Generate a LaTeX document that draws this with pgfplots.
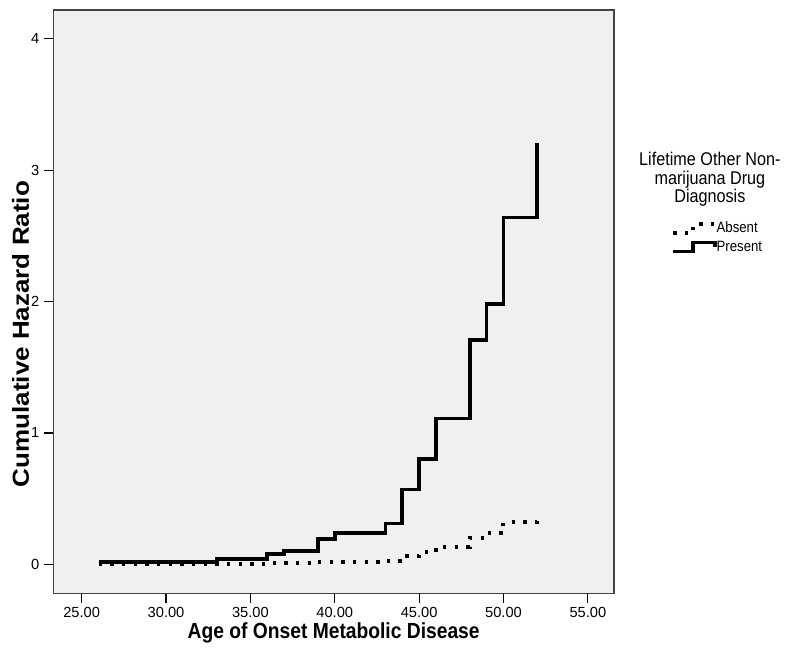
\documentclass[border=0pt]{standalone}
\usepackage{pgfplots}
\pgfplotsset{compat=1.18}
\usepackage{fontspec}
\setmainfont{Liberation Sans}
\newfontfamily\xlabfont[FakeStretch=0.88]{Liberation Sans}
\newfontfamily\ylabfont[FakeStretch=1.12]{Liberation Sans}
\newfontfamily\legfont[FakeStretch=0.88]{Liberation Sans}
\definecolor{plotbg}{HTML}{F0F0F0}
\definecolor{framegray}{HTML}{444444}

\begin{document}
\begin{tikzpicture}
\path[use as bounding box] (0,0) rectangle (596.25pt,490.5pt);
\begin{axis}[
    at={(40pt,45.5pt)}, anchor=south west,
    scale only axis,
    width=420.5pt, height=437.5pt,
    xmin=23.32, xmax=56.55,
    ymin=-0.221, ymax=4.219,
    clip mode=individual,
    axis background/.style={fill=plotbg},
    axis line style={draw=framegray, line width=1pt},
    xtick={25,30,35,40,45,50,55},
    ytick={0,1,2,3,4},
    tick pos=left,
    tick align=outside,
    major tick length=7pt,
    tick style={black, line width=0.9pt},
    /pgf/number format/assume math mode=true,
    xticklabel style={font=\fontsize{11}{13}\selectfont,
        /pgf/number format/fixed, /pgf/number format/fixed zerofill,
        /pgf/number format/precision=2},
    yticklabel style={font=\fontsize{11}{13}\selectfont},
    xlabel={Age of Onset Metabolic Disease},
    xlabel style={font=\xlabfont\bfseries\fontsize{16.4}{19}\selectfont,
        at={(rel axis cs:0.5,-0.0681)}, anchor=center},
    ylabel={Cumulative Hazard Ratio},
    ylabel style={font=\ylabfont\bfseries\fontsize{17.4}{20}\selectfont,
        at={(rel axis cs:-0.0585,0.4445)}, anchor=center},
    legend style={at={(rel axis cs:1.1017,0.639)}, anchor=north west,
        draw=none, fill=none, inner sep=0pt, row sep=2.2pt,
        font=\legfont\fontsize{11.25}{13}\selectfont,
        nodes={text height=9pt, text depth=2.5pt, inner sep=0pt},
        /tikz/every even column/.append style={column sep=2pt}},
    legend cell align=left,
    legend image code/.code={
        \draw[#1] (0pt,-3.5pt) -- (15pt,-3.5pt) -- (15pt,3.2pt) -- (31pt,3.2pt) -- (31pt,-0.5pt);
    },
]
% Absent
\addplot[const plot, black, line width=3pt, dash pattern=on 2.5pt off 6.25pt] coordinates {
    (26,0.000) (36,0.008) (39,0.017) (43,0.027) (44,0.062) (45,0.090)
    (46,0.130) (48,0.200) (49,0.235) (50,0.320) (52,0.345)
};
\addlegendentry{Absent}
% Present
\addplot[const plot, black, line width=2.8pt, line join=miter] coordinates {
    (26,0.020) (33,0.040) (36,0.076) (37,0.100) (39,0.190) (40,0.240)
    (43,0.310) (44,0.570) (45,0.800) (46,1.110) (48,1.710) (49,1.980)
    (50,2.640) (52,3.210)
};
\addlegendentry{Present}
\node[align=center, font=\legfont\fontsize{13.8}{14}\selectfont]
    at (rel axis cs:1.171,0.7094) {Lifetime Other Non-\\marijuana Drug\\Diagnosis};
\end{axis}
\end{tikzpicture}
\end{document}
